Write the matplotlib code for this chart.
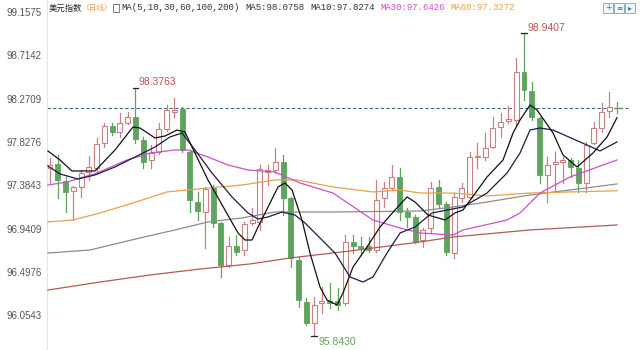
import numpy as np
import matplotlib.pyplot as plt
from matplotlib.patches import Rectangle

# daily candles of the US dollar index, oldest first
opens = [97.560, 97.601, 97.427, 97.325, 97.366, 97.519, 97.560, 97.816, 97.990, 97.929,
         98.021, 98.083, 97.847, 97.642, 97.724, 97.960, 98.134, 98.164, 97.724, 97.212,
         97.110, 97.356, 96.997, 96.567, 96.762, 96.721, 96.997, 97.008, 97.519, 97.540,
         97.622, 97.253, 96.619, 96.189, 95.973, 96.178, 96.199, 96.199, 96.178, 96.803,
         96.762, 96.762, 96.721, 97.253, 97.356, 97.468, 97.110, 97.059, 96.823, 96.946,
         97.366, 97.192, 96.690, 97.253, 97.264, 97.673, 97.673, 97.775, 97.980, 98.042,
         98.052, 98.543, 98.349, 98.072, 97.489, 97.601, 97.622, 97.642, 97.560, 97.407,
         97.816, 97.970, 98.144, 98.175]
closes = [97.591, 97.438, 97.315, 97.366, 97.509, 97.571, 97.806, 97.990, 97.929, 98.021,
          98.083, 97.857, 97.622, 97.714, 97.960, 98.154, 98.154, 97.745, 97.233, 97.120,
          97.345, 96.997, 96.567, 96.762, 96.700, 96.987, 97.028, 97.550, 97.540, 97.622,
          97.253, 96.639, 96.209, 95.973, 96.158, 96.199, 96.178, 96.158, 96.803, 96.762,
          96.741, 96.721, 97.233, 97.356, 97.468, 97.110, 97.059, 96.803, 96.926, 97.356,
          97.192, 96.700, 97.264, 97.356, 97.673, 97.683, 97.765, 97.970, 98.031, 98.062,
          98.543, 98.359, 98.083, 97.489, 97.591, 97.622, 97.642, 97.571, 97.407, 97.796,
          97.970, 98.134, 98.185, 98.172]
highs = [97.663, 97.694, 97.468, 97.376, 97.540, 97.683, 97.868, 98.021, 98.021, 98.124,
         98.134, 98.3763, 97.878, 97.796, 98.021, 98.205, 98.277, 98.185, 97.745, 97.315,
         97.366, 97.386, 97.008, 96.854, 96.874, 97.008, 97.151, 97.591, 97.591, 97.765,
         97.694, 97.264, 96.649, 96.229, 96.240, 96.342, 96.383, 96.332, 96.874, 96.874,
         96.854, 96.854, 97.438, 97.417, 97.591, 97.560, 97.151, 97.079, 96.946, 97.417,
         97.438, 97.212, 97.304, 97.407, 97.724, 97.816, 97.919, 98.083, 98.124, 98.195,
         98.687, 98.9407, 98.441, 98.083, 97.673, 97.724, 97.673, 97.663, 97.642, 97.827,
         98.031, 98.226, 98.338, 98.236]
lows = [97.407, 97.253, 97.110, 97.028, 97.264, 97.438, 97.509, 97.775, 97.898, 97.878,
        98.011, 97.816, 97.560, 97.560, 97.704, 97.939, 98.083, 97.724, 97.110, 97.028,
        96.741, 96.956, 96.445, 96.547, 96.670, 96.670, 96.977, 96.926, 97.386, 97.509,
        97.079, 96.547, 96.137, 95.953, 95.8430, 96.076, 96.127, 96.107, 96.158, 96.690,
        96.670, 96.700, 96.700, 97.161, 97.335, 97.028, 96.956, 96.793, 96.752, 96.895,
        97.151, 96.670, 96.639, 97.212, 97.253, 97.560, 97.642, 97.765, 97.878, 98.021,
        98.001, 98.257, 98.052, 97.407, 97.212, 97.315, 97.407, 97.468, 97.315, 97.315,
        97.806, 97.929, 98.083, 98.124]

# moving averages (position in candle units, value)
ma5_x = [-0.26, 1.29, 2.83, 5.79, 8.37, 10.68, 11.58, 13.51, 14.80, 16.34, 17.37, 18.28,
         20.33, 22.52, 24.20, 25.10, 26.00, 26.77, 28.06, 29.34, 30.24, 31.15, 32.43, 33.46,
         34.75, 35.65, 36.94, 37.71, 39.00, 40.80, 42.47, 44.40, 45.95, 46.98, 48.65, 50.84,
         52.12, 53.15, 56.24, 58.30, 59.59, 60.49, 61.78, 62.68, 64.74, 66.02, 67.83, 69.88,
         71.69, 72.97]
ma5_y = [97.734, 97.642, 97.530, 97.530, 97.745, 97.980, 97.970, 97.868, 97.888, 97.949,
         97.929, 97.775, 97.438, 97.130, 96.895, 96.823, 96.823, 96.956, 97.161, 97.366,
         97.407, 97.335, 97.028, 96.690, 96.342, 96.209, 96.158, 96.281, 96.547, 96.752,
         96.956, 97.130, 97.264, 97.212, 97.079, 97.028, 97.100, 97.130, 97.468, 97.642,
         97.919, 98.052, 98.205, 98.154, 97.919, 97.694, 97.571, 97.714, 97.878, 98.0758]
ma10_x = [-0.26, 1.29, 3.60, 5.79, 8.37, 10.68, 13.51, 15.44, 16.99, 18.66, 20.85, 23.42,
          25.48, 26.77, 28.06, 29.86, 31.53, 32.82, 35.01, 36.68, 38.61, 40.28, 41.57, 43.37,
          45.05, 46.98, 49.16, 51.09, 53.15, 56.24, 58.82, 60.49, 61.78, 63.06, 64.74, 68.21,
          70.79, 72.97]
ma10_y = [97.581, 97.499, 97.448, 97.489, 97.571, 97.663, 97.775, 97.878, 97.919, 97.745,
          97.509, 97.264, 97.100, 97.038, 97.059, 97.110, 97.079, 96.997, 96.823, 96.690,
          96.445, 96.393, 96.445, 96.690, 96.895, 96.956, 97.100, 97.130, 97.161, 97.304,
          97.509, 97.714, 97.949, 97.970, 97.949, 97.827, 97.735, 97.8274]
ma30_x = [-0.26, 2.19, 6.05, 9.91, 12.87, 16.09, 17.76, 20.33, 22.91, 25.48, 28.96, 32.18,
          36.42, 41.57, 45.05, 47.62, 51.87, 53.15, 58.82, 60.49, 63.06, 66.92, 72.97]
ma30_y = [97.386, 97.417, 97.509, 97.642, 97.714, 97.745, 97.745, 97.673, 97.591, 97.540,
          97.519, 97.407, 97.304, 97.028, 96.946, 96.895, 96.874, 96.926, 97.028, 97.100,
          97.304, 97.468, 97.6426]
ma60_x = [-0.26, 2.96, 6.44, 10.68, 15.06, 17.63, 20.33, 24.71, 28.96, 31.79, 36.42, 41.57,
          45.05, 47.62, 51.87, 56.24, 61.78, 66.92, 72.97]
ma60_y = [97.008, 97.028, 97.100, 97.202, 97.315, 97.335, 97.356, 97.386, 97.438, 97.438,
          97.366, 97.315, 97.335, 97.304, 97.304, 97.274, 97.304, 97.315, 97.3272]
ma100_x = [-0.26, 5.15, 11.58, 16.09, 20.33, 24.71, 28.96, 36.42, 47.62, 51.87, 56.24,
           61.78, 66.92, 72.97]
ma100_y = [96.690, 96.721, 96.844, 96.926, 97.008, 97.049, 97.110, 97.110, 97.120, 97.161,
           97.212, 97.284, 97.335, 97.397]
ma200_x = [-0.26, 6.44, 12.87, 19.31, 25.74, 30.89, 38.61, 47.62, 51.87, 61.78, 72.97]
ma200_y = [96.311, 96.393, 96.465, 96.526, 96.578, 96.639, 96.711, 96.803, 96.854, 96.926,
           96.977]

y_ticks = [99.1575, 98.7142, 98.2709, 97.8276, 97.3843, 96.9409, 96.4976, 96.0543]

up_col = '#c98080'
down_col = '#5ea35e'

fig = plt.figure(figsize=(6.4, 3.5), dpi=100)
ax = fig.add_axes([47 / 640, 0, 585 / 640, 1])

n = len(opens)
idx = np.arange(n)
w = 0.64
for i in idx:
    o, c, h, l = opens[i], closes[i], highs[i], lows[i]
    up = c > o
    col = up_col if up else down_col
    ax.plot([i, i], [l, h], color=col, lw=0.9, zorder=2)
    lo, hi = min(o, c), max(o, c)
    if hi - lo < 0.006:
        ax.plot([i - w / 2, i + w / 2], [o, o], color=col, lw=1.0, zorder=3)
    elif up:
        ax.add_patch(Rectangle((i - w / 2, lo), w, hi - lo, facecolor='white',
                               edgecolor=col, lw=0.8, zorder=3))
    else:
        ax.add_patch(Rectangle((i - w / 2, lo), w, hi - lo, facecolor=col,
                               edgecolor=col, lw=0.6, zorder=3))

ax.plot(ma200_x, ma200_y, color='#b25a5a', lw=0.9, zorder=4)
ax.plot(ma100_x, ma100_y, color='#8c8c8c', lw=0.9, zorder=4)
ax.plot(ma60_x, ma60_y, color='#e8a04a', lw=0.9, zorder=4)
ax.plot(ma30_x, ma30_y, color='#cc4fcc', lw=0.9, zorder=4)
ax.plot(ma10_x, ma10_y, color='#1c1c48', lw=0.9, zorder=5)
ax.plot(ma5_x, ma5_y, color='#111111', lw=0.9, zorder=5)

# last close reference line
ax.axhline(closes[-1], xmin=0, xmax=0.997, color='#45677f', lw=0.8,
           ls=(0, (3, 2)), zorder=1)

# extreme markers
i_hi1 = 11
i_hi2 = int(np.argmax(highs))
i_lo = int(np.argmin(lows))
for i, v in [(i_hi1, highs[i_hi1]), (i_hi2, highs[i_hi2]), (i_lo, lows[i_lo])]:
    ax.plot([i - 0.35, i + 0.35], [v, v], color='#222222', lw=0.9, zorder=6)
ax.annotate('%.4f' % highs[i_hi1], (i_hi1, highs[i_hi1]), xytext=(3, 6),
            textcoords='offset pixels', va='center', ha='left', fontsize=7.5,
            color='#c0504d', family='Liberation Sans')
ax.annotate('%.4f' % highs[i_hi2], (i_hi2, highs[i_hi2]), xytext=(4, 5),
            textcoords='offset pixels', va='center', ha='left', fontsize=7.5,
            color='#c0504d', family='Liberation Sans')
ax.annotate('%.4f' % lows[i_lo], (i_lo, lows[i_lo]), xytext=(4, -6),
            textcoords='offset pixels', va='center', ha='left', fontsize=7.5,
            color='#5ea35e', family='Liberation Sans')

ax.set_xlim(-0.386, 74.9)
ax.set_ylim(95.697, 99.2804)
ax.set_yticks(y_ticks)
ax.set_yticklabels(['%.4f' % t for t in y_ticks], family='Liberation Sans',
                   fontsize=7, color='#555555')
ax.tick_params(axis='y', length=0, pad=4)
ax.set_xticks([])
for s in ['top', 'right', 'bottom']:
    ax.spines[s].set_visible(False)
ax.spines['left'].set_color('#e4e4e4')
ax.spines['left'].set_linewidth(0.8)

# header line
cjk = ['Noto Sans CJK SC', 'DejaVu Sans']
mono = ['Liberation Mono']
hy = 1 - 8 / 350
fs = 6.5
fig.text(49 / 640, hy, '美元指数', family=cjk, fontsize=6, color='#222222', va='center')
fig.text(82 / 640, hy, '〈日线〉', family=cjk, fontsize=5.5, color='#e8a04a', va='center')
fig.patches.append(Rectangle((113 / 640, 1 - 12 / 350), 6 / 640, 8 / 350,
                             transform=fig.transFigure, facecolor='white',
                             edgecolor='#666666', lw=0.6))
fig.text(121 / 640, hy, 'MA(5,10,30,60,100,200)', family=mono, fontsize=fs,
         color='#333333', va='center')
fig.text(245 / 640, hy, 'MA5:98.0758', family=mono, fontsize=fs, color='#333333', va='center')
fig.text(310 / 640, hy, 'MA10:97.8274', family=mono, fontsize=fs, color='#333333', va='center')
fig.text(380 / 640, hy, 'MA30:97.6426', family=mono, fontsize=fs, color='#cc4fcc', va='center')
fig.text(450 / 640, hy, 'MA60:97.3272', family=mono, fontsize=fs, color='#e8a04a', va='center')

# toolbar buttons
for bx, glyph in [(603, '+'), (614, '≡'), (625, '▸')]:
    fig.patches.append(Rectangle((bx / 640, 1 - 13 / 350), 10 / 640, 10 / 350,
                                 transform=fig.transFigure, facecolor='#f4f8fc',
                                 edgecolor='#7aa0c0', lw=0.6))
    fig.text((bx + 5) / 640, 1 - 8 / 350, glyph, fontsize=5.5, color='#4a7090',
             ha='center', va='center')

fig.savefig('out.png', dpi=100)
